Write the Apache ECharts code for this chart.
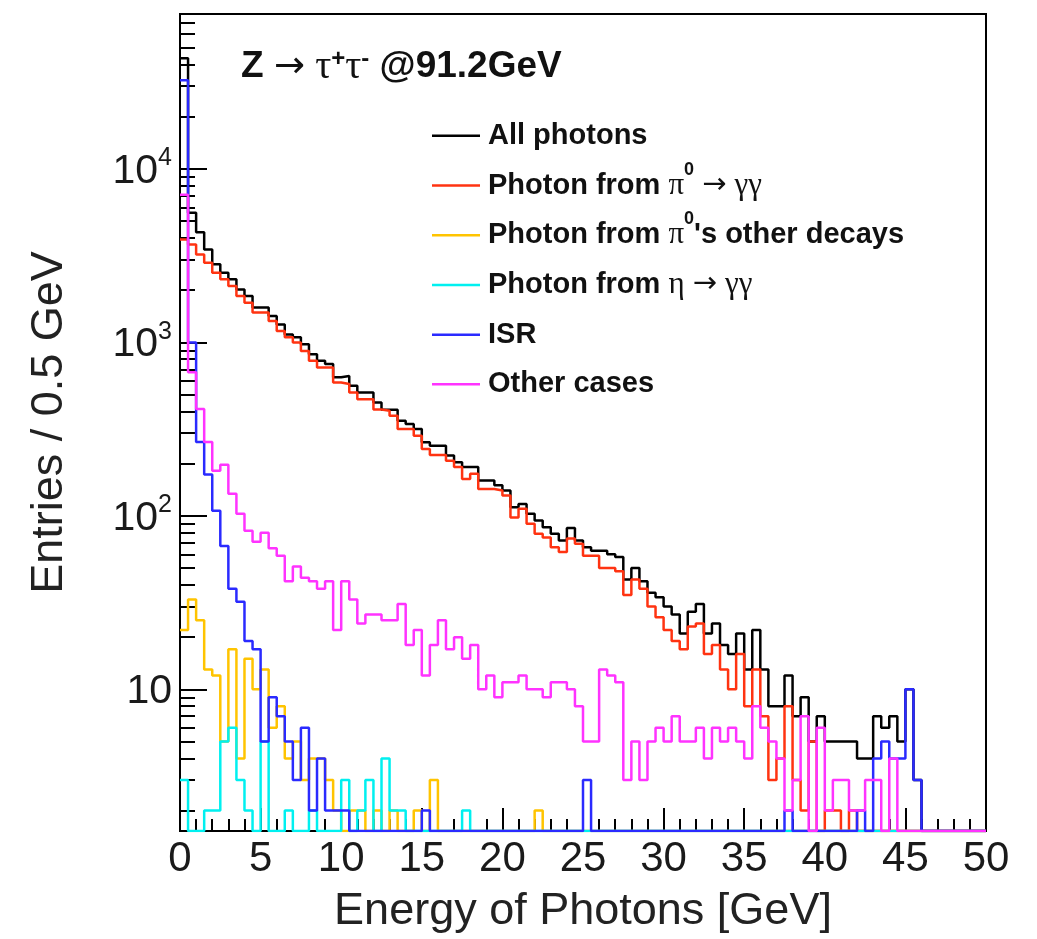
<!DOCTYPE html>
<html><head><meta charset="utf-8">
<script src="https://cdn.jsdelivr.net/npm/echarts@6/dist/echarts.min.js"></script>
<style>html,body{margin:0;padding:0;background:#fff}#c{width:1037px;height:939px}</style>
</head><body><div id="c"></div>
<script>
// ---- binning ----
const BIN_WIDTH = 0.5;   // GeV
const N_BINS = 100;
const X_TICKS = { min: 0, max: 50, interval: 5 };

// ---- y-axis tick values ----
const Y_MIN = 1.5255, Y_MAX = 78190;
const Y_MAJOR = [10, 100, 1000, 10000];
const Y_MINOR = [2,3,4,5,6,7,8,9, 20,30,40,50,60,70,80,90, 200,300,400,500,600,700,800,900,
                 2000,3000,4000,5000,6000,7000,8000,9000, 20000,30000,40000,50000,60000,70000];

// ---- series (entries per 0.5 GeV bin) ----
const allPhotons = [43400,5590,4320,3430,2820,2520,2310,2020,1850,1590,
  1590,1420,1270,1110,1070,977,855,783,750,629,
  641,562,515,515,451,409,409,354,339,317,
  266,254,254,223,204,191,191,160,160,150,
  140,112,117,103,94,86,79,72,85,72,
  66,63,63,60,58,43,50,42,36,34,
  30,27,21,28,31,21,24,18,16,21,
  13,22,13,8,8,12,7,9,5,7,
  5,5,5,5,4,4,7,6,7,5,
  10,3,0,0,0,0,0,0,0,0];
const pi0GammaGamma = [3920,3670,3210,2880,2520,2310,2115,1850,1695,1485,
  1485,1330,1165,1070,998,893,783,717,717,588,
  576,515,471,471,411,404,378,317,317,290,
  243,224,224,208,191,163,175,143,143,140,
  131,98,110,90,79,75,66,62,74,69,
  59,59,50,50,48,35,43,38,30,26,
  22,19,17,23,24,16,18,13,10,16,
  8,13,7,3,4,8,3,2,5,1,
  2,2,0,2,0,0,0,0,0,0,
  0,0,0,0,0,0,0,0,0,0];
const pi0Other = [22,33,25,13,12,5,17,4,15,10,
  13,6,8,4,5,3,4,4,3,2,
  0,2,2,0,2,0,2,0,0,2,
  0,3,0,0,0,0,0,0,0,0,
  0,0,0,0,2,0,0,0,0,0,
  0,0,0,0,0,0,0,0,0,0,
  0,0,0,0,0,0,0,0,0,0,
  0,0,0,0,0,0,0,0,0,0,
  0,0,0,0,0,0,0,0,0,0,
  0,0,0,0,0,0,0,0,0,0];
const etaGammaGamma = [3,0,0,2,2,5,6,3,2,0,
  5,0,0,2,0,0,2,0,0,0,
  3,0,2,3,0,4,2,2,0,0,
  0,0,0,0,0,2,0,0,0,0,
  0,0,0,0,0,0,0,0,0,0,
  0,0,0,0,0,0,0,0,0,0,
  0,0,0,0,0,0,0,0,0,0,
  0,0,0,0,0,0,0,0,0,0,
  0,0,0,0,0,0,0,0,0,0,
  0,0,0,0,0,0,0,0,0,0];
const isr = [32400,1000,267,173,107,67,38,32,19,17,
  5,9,7,5,3,6,2,4,2,2,
  2,0,0,0,0,0,0,0,0,0,
  2,0,0,0,0,0,0,0,0,0,
  0,0,0,0,0,0,0,0,0,0,
  3,0,0,0,0,0,0,0,0,0,
  0,0,0,0,0,0,0,0,0,0,
  0,0,0,0,0,2,0,0,0,0,
  0,0,0,0,2,0,4,5,4,4,
  10,3,0,0,0,0,0,0,0,0];
const otherCases = [7100,674,413,267,182,197,134,103,82,71,
  80,65,59,42,51,44,42,38,42,22,
  42,33,24,27,27,25,25,31,18,22,
  12,18,25,17,20,15,18,10,12,9,
  11,11,12,10,10,9,11,11,10,8,
  5,5,13,12,11,3,5,3,5,6,
  5,7,5,5,6,4,6,5,6,5,
  4,8,6,5,4,2,3,7,0,6,
  2,3,3,2,2,3,3,0,4,0,
  0,0,0,0,0,0,0,0,0,0];

const SERIES = [
  { name: 'All photons', data: allPhotons, color: '#000000' },
  { name: 'Photon from π0 → γγ', data: pi0GammaGamma, color: '#ff3311' },
  { name: "Photon from π0's other decays", data: pi0Other, color: '#ffc400' },
  { name: 'Photon from η → γγ', data: etaGammaGamma, color: '#00f0f0' },
  { name: 'ISR', data: isr, color: '#2a2aff' },
  { name: 'Other cases', data: otherCases, color: '#ff33ff' }
];

const FONT = "'Liberation Sans', Arial, Helvetica, sans-serif";
const SYM = "'Liberation Serif', 'DejaVu Serif', serif";
const ARR = "'DejaVu Sans', sans-serif";

function histData(vals) {
  const pts = vals.map((v, i) => [i * BIN_WIDTH, Math.max(v, Y_MIN)]);
  pts.push([N_BINS * BIN_WIDTH, Math.max(vals[vals.length - 1], Y_MIN)]);
  return pts;
}

const chart = echarts.init(document.getElementById('c'), null, { renderer: 'canvas' });
chart.setOption({
  animation: false,
  backgroundColor: '#ffffff',
  title: {
    text: 'Z {a|→} {g|τ}{s|+}{g|τ}{s|-} @91.2GeV',
    left: 241, top: 47, padding: 0,
    textStyle: {
      fontFamily: FONT, fontWeight: 'bold', fontSize: 37, color: '#111', lineHeight: 40,
      rich: {
        a: { fontFamily: ARR, fontWeight: 'normal', fontSize: 37, color: '#111', lineHeight: 40 },
        g: { fontFamily: SYM, fontWeight: 'normal', fontSize: 40, color: '#111', lineHeight: 40 },
        s: { fontFamily: FONT, fontWeight: 'bold', fontSize: 24, color: '#111', lineHeight: 28, verticalAlign: 'top' }
      }
    }
  },
  legend: {
    orient: 'vertical', left: 432, top: 111, padding: 0,
    icon: 'rect', itemWidth: 48, itemHeight: 2.5, itemGap: 0,
    data: SERIES.map(s => s.name),
    formatter: function (name) {
      return name.replace('π0', '{g|π}{s|0}').replace('η', '{g|η}').replace('→ γγ', '{a|→} {g|γγ}');
    },
    textStyle: {
      fontFamily: FONT, fontWeight: 'bold', fontSize: 29, color: '#111', lineHeight: 49.7,
      padding: [0, 0, 0, 3],
      rich: {
        a: { fontFamily: ARR, fontWeight: 'normal', fontSize: 29, color: '#111', lineHeight: 49.7 },
        g: { fontFamily: SYM, fontWeight: 'normal', fontSize: 31, color: '#111', lineHeight: 49.7 },
        s: { fontFamily: FONT, fontWeight: 'bold', fontSize: 18, color: '#111', lineHeight: 32, verticalAlign: 'top' }
      }
    }
  },
  grid: { left: 180, top: 14, width: 806, height: 819, show: true, borderColor: '#000', borderWidth: 2, backgroundColor: 'transparent' },
  xAxis: {
    type: 'value', min: X_TICKS.min, max: X_TICKS.max, interval: X_TICKS.interval,
    axisLine: { show: false }, splitLine: { show: false },
    axisTick: { inside: true, length: 23, lineStyle: { color: '#000', width: 2 } },
    minorTick: { show: true, splitNumber: 5, length: 12, lineStyle: { color: '#000', width: 2 } },
    axisLabel: { fontFamily: FONT, fontSize: 42, color: '#1a1a1a', margin: 7 },
    name: 'Energy of Photons [GeV]', nameLocation: 'middle', nameGap: 58,
    nameTextStyle: { fontFamily: FONT, fontSize: 45, color: '#222' }
  },
  yAxis: [{
    type: 'log', logBase: 10, min: Y_MIN, max: Y_MAX,
    axisLine: { show: false }, splitLine: { show: false },
    axisTick: { inside: true, length: 27, customValues: Y_MAJOR, lineStyle: { color: '#000', width: 2 } },
    axisLabel: {
      customValues: Y_MAJOR, margin: 8,
      formatter: function (v) {
        const e = Math.round(Math.log10(v));
        return e === 1 ? '{b|10}' : '{b|10}{s|' + e + '}';
      },
      rich: {
        b: { fontFamily: FONT, fontSize: 41, color: '#1a1a1a', lineHeight: 46, verticalAlign: 'bottom' },
        s: { fontFamily: FONT, fontSize: 25, color: '#1a1a1a', lineHeight: 24, verticalAlign: 'top' }
      }
    },
    name: 'Entries / 0.5 GeV', nameLocation: 'middle', nameGap: 108, nameRotate: 90,
    nameTextStyle: { fontFamily: FONT, fontSize: 45, color: '#222' }
  }, {
    type: 'log', logBase: 10, min: Y_MIN, max: Y_MAX, position: 'left',
    axisLine: { show: false }, splitLine: { show: false }, axisLabel: { show: false },
    axisTick: { inside: true, length: 15, customValues: Y_MINOR, lineStyle: { color: '#000', width: 2 } }
  }],
  series: SERIES.map(s => ({
    name: s.name, type: 'line', step: 'end', symbol: 'none', clip: true,
    yAxisIndex: 0,
    data: histData(s.data),
    lineStyle: { color: s.color, width: 2.5 },
    itemStyle: { color: s.color }
  }))
});
</script>
</body></html>
